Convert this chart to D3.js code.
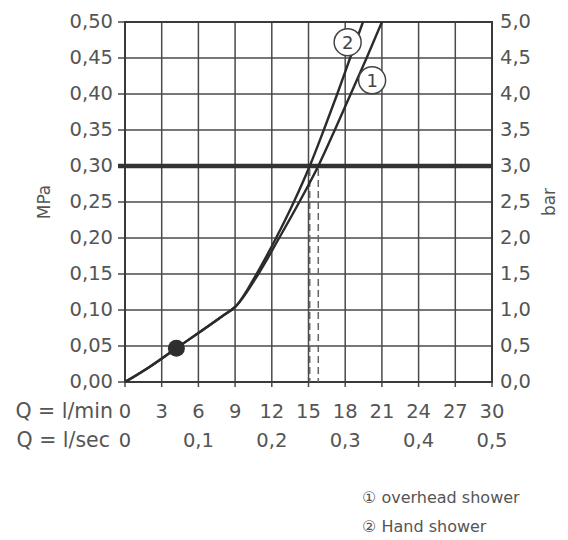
<!DOCTYPE html>
<html>
<head>
<meta charset="utf-8">
<script src="https://cdn.jsdelivr.net/npm/d3@7"></script>
<style>
  body { margin: 0; background: #fff; }
  text { font-family: "DejaVu Sans", sans-serif; fill: #555; }
</style>
</head>
<body>
<div id="chart"></div>
<script>
// datos
const flowTicks = [0, 3, 6, 9, 12, 15, 18, 21, 24, 27, 30]
const secTicks = [0, 0.1, 0.2, 0.3, 0.4, 0.5]
const mpaTicks = [0, 0.05, 0.10, 0.15, 0.20, 0.25, 0.30, 0.35, 0.40, 0.45, 0.50]
const barTicks = [0, 0.5, 1.0, 1.5, 2.0, 2.5, 3.0, 3.5, 4.0, 4.5, 5.0]

// tramo comun (l/min, MPa)
const common = [[0, 0], [2, 0.021], [4.2, 0.047], [6, 0.068], [8, 0.092], [9.05, 0.105]]
// 1 overhead shower
const overhead = [[10.9, 0.15], [12.6, 0.20], [14.25, 0.25], [15.8, 0.30], [17.15, 0.35], [18.45, 0.40], [19.75, 0.45], [21.0, 0.50]]
// 2 hand shower
const hand = [[10.75, 0.15], [12.35, 0.20], [13.8, 0.25], [15.1, 0.30], [16.25, 0.35], [17.35, 0.40], [18.4, 0.45], [19.45, 0.50]]

const refPressure = 0.30
const dot = [4.2, 0.047]
const labels = [{ n: "1", q: 20.2, p: 0.419 }, { n: "2", q: 18.2, p: 0.472 }]
const legend = ["\u2460  overhead shower", "\u2461  Hand shower"]

const width = 568, height = 540
const pLeft = 125, pRight = 492, pTop = 22, pBottom = 382

const svg = d3.select("#chart").append("svg")
  .attr("width", width)
  .attr("height", height)

const x = d3.scaleLinear().domain([0, 30]).range([pLeft, pRight])
const y = d3.scaleLinear().domain([0, 0.5]).range([pBottom, pTop])
const yBar = d3.scaleLinear().domain([0, 5]).range([pBottom, pTop])
const xSec = d3.scaleLinear().domain([0, 0.5]).range([pLeft, pRight])

const comma = v => v.replace(".", ",")
const gridColor = "#4a4a4a"

// Rejilla
svg.append("g").selectAll("line").data(flowTicks).enter().append("line")
  .attr("x1", d => x(d)).attr("x2", d => x(d))
  .attr("y1", pTop).attr("y2", pBottom + 5)
  .attr("stroke", gridColor).attr("stroke-width", 1.5)

svg.append("g").selectAll("line").data(mpaTicks).enter().append("line")
  .attr("x1", pLeft - 7).attr("x2", pRight)
  .attr("y1", d => y(d)).attr("y2", d => y(d))
  .attr("stroke", gridColor).attr("stroke-width", 1.5)

// borde
svg.append("rect")
  .attr("x", pLeft).attr("y", pTop)
  .attr("width", pRight - pLeft).attr("height", pBottom - pTop)
  .attr("fill", "none").attr("stroke", "#3a3a3a").attr("stroke-width", 2)

// linea 0,30 MPa
svg.append("line")
  .attr("x1", pLeft - 7).attr("x2", pRight)
  .attr("y1", y(refPressure)).attr("y2", y(refPressure))
  .attr("stroke", "#333").attr("stroke-width", 4.5)

// lineas discontinuas
const crossings = [hand, overhead].map(s => s.find(d => d[1] === refPressure))
svg.append("g").selectAll("line").data(crossings).enter().append("line")
  .attr("x1", d => x(d[0])).attr("x2", d => x(d[0]))
  .attr("y1", y(refPressure) + 3).attr("y2", pBottom)
  .attr("stroke", "#666").attr("stroke-width", 1.5)
  .attr("stroke-dasharray", "7,4")

// Curvas (tramo comun + rama)
const line = d3.line()
  .x(d => x(d[0]))
  .y(d => y(d[1]))
  .curve(d3.curveMonotoneX)

svg.append("defs").append("clipPath").attr("id", "clip")
  .append("rect").attr("x", pLeft).attr("y", pTop)
  .attr("width", pRight - pLeft).attr("height", pBottom - pTop)

const curves = svg.append("g").attr("clip-path", "url(#clip)")
curves.selectAll("path").data([common.concat(overhead), common.concat(hand)]).enter().append("path")
  .attr("d", line)
  .attr("fill", "none").attr("stroke", "#2b2b2b").attr("stroke-width", 2.4)

svg.append("circle")
  .attr("cx", x(dot[0])).attr("cy", y(dot[1]))
  .attr("r", 8.5).attr("fill", "#2e2e2e")

// etiquetas de curva
const lab = svg.append("g").selectAll("g").data(labels).enter().append("g")
  .attr("transform", d => `translate(${x(d.q)},${y(d.p)})`)
lab.append("circle").attr("r", 13.5)
  .attr("fill", "#fff").attr("stroke", "#444").attr("stroke-width", 1.5)
lab.append("text").text(d => d.n)
  .attr("text-anchor", "middle").attr("dy", "0.36em")
  .style("font-size", "18px").style("fill", "#444")

// Ejes
svg.append("g").selectAll("text").data(mpaTicks).enter().append("text")
  .attr("x", pLeft - 12).attr("y", d => y(d)).attr("dy", "0.3em")
  .attr("text-anchor", "end")
  .style("font-size", "19.5px")
  .text(d => comma(d.toFixed(2)))

svg.append("g").selectAll("text").data(barTicks).enter().append("text")
  .attr("x", pRight + 8).attr("y", d => yBar(d)).attr("dy", "0.3em")
  .style("font-size", "19.5px")
  .text(d => comma(d.toFixed(1)))

svg.append("text")
  .attr("transform", `translate(50,${y(0.25)}) rotate(-90)`)
  .attr("text-anchor", "middle")
  .style("font-size", "17px")
  .text("MPa")

svg.append("text")
  .attr("transform", `translate(555,${y(0.25)}) rotate(-90)`)
  .attr("text-anchor", "middle")
  .style("font-size", "17px")
  .text("bar")

svg.append("g").selectAll("text").data(flowTicks).enter().append("text")
  .attr("x", d => x(d)).attr("y", 418)
  .attr("text-anchor", "middle")
  .style("font-size", "19.5px")
  .text(d => d)

svg.append("g").selectAll("text").data(secTicks).enter().append("text")
  .attr("x", d => xSec(d)).attr("y", 447)
  .attr("text-anchor", "middle")
  .style("font-size", "19.5px")
  .text(d => d === 0 ? "0" : comma(d.toFixed(1)))

svg.append("text").attr("x", 113).attr("y", 418)
  .attr("text-anchor", "end").style("font-size", "20.5px")
  .text("Q = l/min")
svg.append("text").attr("x", 110).attr("y", 447)
  .attr("text-anchor", "end").style("font-size", "20.5px")
  .text("Q = l/sec")

// Leyenda
svg.append("g").selectAll("text").data(legend).enter().append("text")
  .attr("x", 362).attr("y", (d, i) => 503 + i * 29)
  .style("font-size", "16px")
  .text(d => d)
</script>
</body>
</html>
